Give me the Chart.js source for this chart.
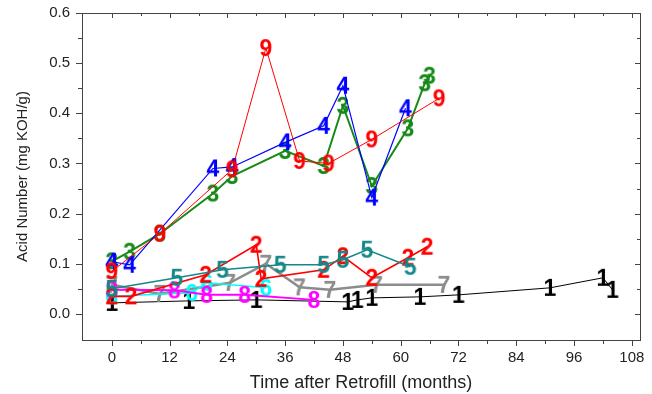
<!DOCTYPE html>
<html>
<head>
<meta charset="utf-8">
<script src="https://cdn.jsdelivr.net/npm/chart.js@4.4.1/dist/chart.umd.min.js"></script>
<style>
  html, body { margin: 0; padding: 0; background: #fff; }
  #wrap { width: 652px; height: 394px; }
</style>
</head>
<body>
<div id="wrap"><canvas id="chart"></canvas></div>
<script>
// tick labels
const xTicks = [0, 12, 24, 36, 48, 60, 72, 84, 96, 108];
const yTicks = [0, 0.1, 0.2, 0.3, 0.4, 0.5, 0.6];

// one pair of arrays per unit (months after retrofill, acid number)
const months1 = [0, 16, 30, 49, 51, 54, 64, 72, 91, 102, 104];
const acid1   = [0.022, 0.026, 0.028, 0.024, 0.028, 0.032, 0.034, 0.038, 0.052, 0.072, 0.048];

const months2 = [0, 4, 19.5, 30, 31, 44, 48, 54, 61.5, 65.5];
const acid2   = [0.035, 0.035, 0.078, 0.138, 0.07, 0.088, 0.115, 0.072, 0.112, 0.134];

const months3 = [0, 3.7, 10, 21, 25, 36, 44, 48, 54, 61.5, 65, 66];
const acid3   = [0.105, 0.124, 0.16, 0.24, 0.275, 0.325, 0.295, 0.415, 0.255, 0.37, 0.46, 0.475];

const months4 = [0, 3.7, 21, 25, 36, 44, 48, 54, 61];
const acid4   = [0.104, 0.098, 0.29, 0.293, 0.342, 0.375, 0.455, 0.232, 0.41];

const months5 = [0, 13.5, 23, 35, 44, 48, 53, 62];
const acid5   = [0.05, 0.072, 0.088, 0.098, 0.098, 0.108, 0.128, 0.094];

const months6 = [0, 16.6, 19.7, 32];
const acid6   = [0.035, 0.042, 0.062, 0.052];

const months7 = [0, 10, 24.5, 32, 39, 45.3, 55, 69];
const acid7   = [0.058, 0.04, 0.062, 0.1, 0.053, 0.048, 0.058, 0.058];

const months8 = [0, 13, 19.7, 27.6, 42];
const acid8   = [0.048, 0.047, 0.038, 0.038, 0.028];

const months9 = [0, 10, 25, 32, 39, 45, 54, 68];
const acid9   = [0.085, 0.16, 0.288, 0.53, 0.305, 0.3, 0.348, 0.43];

// marker = the unit number drawn as a bold digit
function glyph(ch, color) {
  const size = 23;
  const c = document.createElement('canvas');
  c.width = 30; c.height = 30;
  const g = c.getContext('2d');
  g.font = '700 ' + size + 'px "Liberation Sans", Arial, sans-serif';
  g.fillStyle = color;
  g.textAlign = 'center';
  g.textBaseline = 'alphabetic';
  g.fillText(ch, 15, 15 + size * 0.36);
  return c;
}

function series(label, xs, ys, color, width) {
  return {
    label: label,
    data: xs.map((m, i) => ({ x: m, y: ys[i] })),
    borderColor: color,
    borderWidth: width,
    pointStyle: glyph(label, color),
    pointRadius: 12,
    tension: 0,
    fill: false
  };
}

// first dataset is drawn on top
const datasets = [
  series('9', months9, acid9, '#ff0000', 1),
  series('4', months4, acid4, '#0000ff', 1.2),
  series('3', months3, acid3, '#168a16', 2),
  series('5', months5, acid5, '#148888', 1.5),
  series('2', months2, acid2, '#ff0000', 1.6),
  series('8', months8, acid8, '#ff00ff', 2),
  series('6', months6, acid6, '#00ffff', 1.5),
  series('7', months7, acid7, '#8c8c8c', 2.5),
  series('1', months1, acid1, '#000000', 1)
];

// box and tick marks (major and minor) taken from the scales
const frame = {
  id: 'frame',
  afterDraw(chart) {
    const { ctx, chartArea: a, scales: { x, y } } = chart;
    ctx.save();
    ctx.strokeStyle = '#444';
    ctx.lineWidth = 1;
    ctx.strokeRect(a.left + 0.5, a.top + 0.5, a.right - a.left, a.bottom - a.top);
    ctx.beginPath();
    xTicks.forEach((v, i) => {
      const marks = [[v, 6]];
      if (i < xTicks.length - 1) marks.push([(v + xTicks[i + 1]) / 2, 4]);
      marks.forEach(([val, len]) => {
        const px = Math.round(x.getPixelForValue(val)) + 0.5;
        ctx.moveTo(px, a.bottom); ctx.lineTo(px, a.bottom + len);
        ctx.moveTo(px, a.top); ctx.lineTo(px, a.top + len - 1);
      });
    });
    yTicks.forEach((v, i) => {
      const marks = [[v, 6]];
      if (i < yTicks.length - 1) marks.push([(v + yTicks[i + 1]) / 2, 4]);
      marks.forEach(([val, len]) => {
        const py = Math.round(y.getPixelForValue(val)) + 0.5;
        ctx.moveTo(a.left, py); ctx.lineTo(a.left - len, py);
        ctx.moveTo(a.right, py); ctx.lineTo(a.right - len + 1, py);
      });
    });
    ctx.stroke();
    ctx.restore();
  }
};

const tickFont = { family: '"Liberation Sans", Arial, sans-serif', size: 15 };

new Chart(document.getElementById('chart'), {
  type: 'line',
  data: { datasets: datasets },
  options: {
    responsive: true,
    maintainAspectRatio: false,
    animation: false,
    layout: { autoPadding: false, padding: { top: 13, right: 12, left: 0, bottom: 0 } },
    plugins: { legend: { display: false }, tooltip: { enabled: false } },
    scales: {
      x: {
        type: 'linear',
        min: -6.2,
        max: 109.7,
        afterBuildTicks: s => { s.ticks = xTicks.map(v => ({ value: v })); },
        afterFit: s => { s.height = 54; s.paddingLeft = 0; s.paddingRight = 0; },
        grid: { display: false, drawTicks: false },
        border: { display: false },
        ticks: { padding: 9, color: '#222', font: tickFont, maxRotation: 0, autoSkip: false },
        title: {
          display: true,
          text: 'Time after Retrofill (months)',
          color: '#222',
          font: { family: '"Liberation Sans", Arial, sans-serif', size: 18 },
          padding: { top: 0, bottom: 0 }
        }
      },
      y: {
        type: 'linear',
        min: -0.052,
        max: 0.6,
        afterBuildTicks: s => { s.ticks = yTicks.map(v => ({ value: v })); },
        afterFit: s => { s.width = 82; s.paddingTop = 0; s.paddingBottom = 0; },
        grid: { display: false, drawTicks: false },
        border: { display: false },
        ticks: { padding: 12, color: '#222', font: tickFont, callback: v => v.toFixed(1) },
        title: {
          display: true,
          text: 'Acid Number (mg KOH/g)',
          color: '#222',
          font: { family: '"Liberation Sans", Arial, sans-serif', size: 15 },
          padding: { top: 14, bottom: 0 }
        }
      }
    }
  },
  plugins: [frame]
});
</script>
</body>
</html>
